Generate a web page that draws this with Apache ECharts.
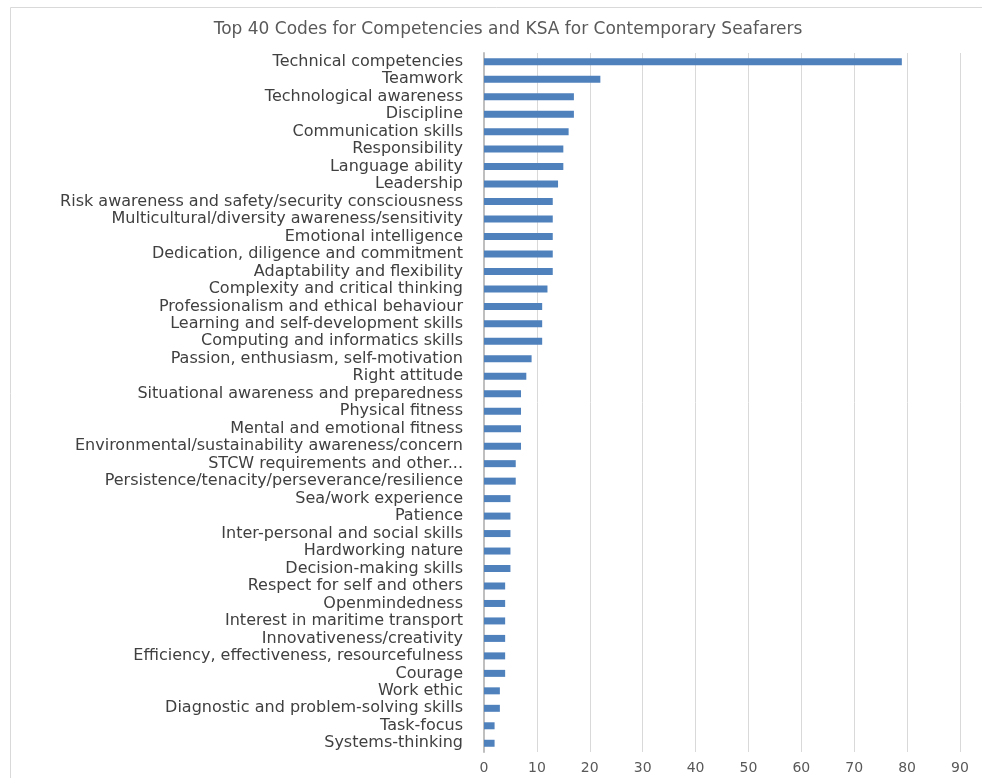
<!DOCTYPE html>
<html>
<head>
<meta charset="utf-8">
<script src="https://cdn.jsdelivr.net/npm/echarts@6/dist/echarts.min.js"></script>
<style>
  html, body { margin: 0; padding: 0; background: #fff; }
  #chart { width: 982px; height: 778px; }
</style>
</head>
<body>
<div id="chart"></div>
<script>
const categories = [
  'Technical competencies', 'Teamwork', 'Technological awareness', 'Discipline',
  'Communication skills', 'Responsibility', 'Language ability', 'Leadership',
  'Risk awareness and safety/security consciousness',
  'Multicultural/diversity awareness/sensitivity', 'Emotional intelligence',
  'Dedication, diligence and commitment', 'Adaptability and flexibility',
  'Complexity and critical thinking', 'Professionalism and ethical behaviour',
  'Learning and self-development skills', 'Computing and informatics skills',
  'Passion, enthusiasm, self-motivation', 'Right attitude',
  'Situational awareness and preparedness', 'Physical fitness',
  'Mental and emotional fitness', 'Environmental/sustainability awareness/concern',
  'STCW requirements and other...', 'Persistence/tenacity/perseverance/resilience',
  'Sea/work experience', 'Patience', 'Inter-personal and social skills',
  'Hardworking nature', 'Decision-making skills', 'Respect for self and others',
  'Openmindedness', 'Interest in maritime transport', 'Innovativeness/creativity',
  'Efficiency, effectiveness, resourcefulness', 'Courage', 'Work ethic',
  'Diagnostic and problem-solving skills', 'Task-focus', 'Systems-thinking'
]
const counts = [
  79, 22, 17, 17, 16, 15, 15, 14, 13, 13,
  13, 13, 13, 12, 11, 11, 11, 9, 8, 7,
  7, 7, 7, 6, 6, 5, 5, 5, 5, 5,
  4, 4, 4, 4, 4, 4, 3, 3, 2, 2
]
const xTicks = { min: 0, max: 90, interval: 10 }

const chart = echarts.init(document.getElementById('chart'))
chart.setOption({
  animation: false,
  title: {
    text: 'Top 40 Codes for Competencies and KSA for Contemporary Seafarers',
    left: 503,
    top: 16,
    textAlign: 'center',
    textStyle: { fontFamily: 'DejaVu Sans', fontSize: 17, fontWeight: 'normal', color: '#595959' }
  },
  graphic: [{
    type: 'rect',
    shape: { x: 10.5, y: 7.5, width: 1000, height: 800 },
    style: { fill: 'none', stroke: '#d9d9d9', lineWidth: 1 },
    silent: true
  }],
  grid: { left: 484, right: 22, top: 53, bottom: 26, containLabel: false },
  xAxis: {
    type: 'value',
    min: xTicks.min,
    max: xTicks.max,
    interval: xTicks.interval,
    axisLine: { show: false },
    axisTick: { show: false },
    axisLabel: { color: '#595959', fontFamily: 'DejaVu Sans', fontSize: 14, margin: 9 },
    splitLine: { lineStyle: { color: '#d9d9d9', width: 1 } }
  },
  yAxis: {
    type: 'category',
    data: categories,
    inverse: true,
    axisLine: { lineStyle: { color: '#bfbfbf', width: 2 } },
    axisTick: { show: false },
    axisLabel: { color: '#404040', fontFamily: 'DejaVu Sans', fontSize: 16, margin: 21, interval: 0 }
  },
  series: [{
    type: 'bar',
    data: counts,
    barWidth: 7,
    itemStyle: { color: '#4f81bd' }
  }]
})
</script>
</body>
</html>
